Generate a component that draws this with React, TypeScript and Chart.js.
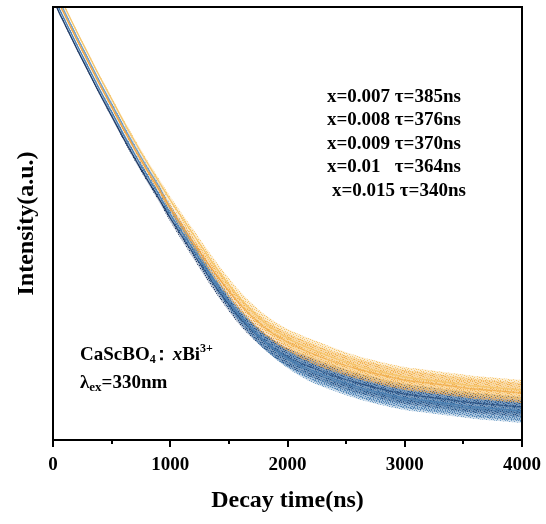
import React, { useEffect, useRef } from "react";
import { Chart, registerables } from "chart.js";

Chart.register(...registerables);

// ---- data (intensity in arbitrary units) ----
const decayTimes = [0, 50, 100, 150, 200, 300, 400, 500, 600, 700, 800, 900, 1000, 1200, 1400, 1600, 1800, 2000, 2200, 2400, 2600, 2800, 3000, 3200, 3400, 3600, 3800, 4000];
const intensity007 = [459, 445, 433, 421, 409, 386, 363, 341, 319, 298, 278, 259, 240, 205, 171, 141, 118, 102, 91, 82, 74, 68, 63, 60, 57, 54, 52, 50];
const intensity008 = [451, 437, 425, 413, 401, 378, 355, 333, 311, 290, 270, 251, 232, 197, 164, 135, 113, 98, 87, 78, 71, 65, 60, 57, 54, 51, 49, 47];
const intensity009 = [446, 432, 420, 408, 396, 373, 350, 328, 306, 285, 265, 246, 226, 190, 154, 123, 99, 82, 70, 61, 53, 47, 42, 39, 36, 33, 31, 29];
const intensity010 = [442, 428, 416, 404, 392, 369, 346, 324, 302, 281, 261, 242, 222, 186, 151, 121, 99, 83, 73, 64, 57, 51, 46, 43, 40, 37, 35, 33];
const intensity015 = [454, 440, 428, 416, 404, 381, 358, 336, 314, 293, 273, 254, 232, 194, 156, 124, 99, 81, 68, 59, 51, 45, 40, 37, 34, 31, 29, 27];
// half-width of the noisy scatter band around each decay curve
const noiseHalfWidth = [1.5, 1.5, 1.5, 1.5, 1.5, 1.5, 1.5, 2, 2, 2.5, 2.5, 3, 3.5, 5, 6, 7, 8, 9, 10, 10, 10, 10, 10, 10, 10, 10, 10, 10];

const concentrations = ["0.007", "0.008", "0.009", "0.01", "0.015"];
const lifetimes = [385, 376, 370, 364, 340];
const xTickValues = [0, 1000, 2000, 3000, 4000];
const xMinorTickValues = [500, 1500, 2500, 3500];

const seriesValues = [intensity007, intensity008, intensity009, intensity010, intensity015];
const seriesColors = ["#F6C66E", "#EFA443", "#4B80B2", "#213D69", "#6F9FC7"];

const SERIF = "'Liberation Serif', 'Times New Roman', serif";

const TILE_W = 11;
const TILE_H = 9;
const DOTS: [number, number][] = [
  [0, 0], [4, 0], [9, 0], [2, 1], [7, 1], [5, 2], [10, 2], [3, 2], [1, 3], [8, 3],
  [6, 4], [3, 4], [0, 5], [9, 5], [5, 5], [2, 6], [7, 6], [10, 7], [4, 7], [1, 8], [6, 8], [8, 8],
];

function makePattern(color: string, shift: number): CanvasPattern | string {
  const c = document.createElement("canvas");
  c.width = TILE_W;
  c.height = TILE_H;
  const g = c.getContext("2d");
  if (!g) return color;
  g.globalAlpha = 0.33;
  g.fillStyle = color;
  g.fillRect(0, 0, TILE_W, TILE_H);
  g.globalAlpha = 1;
  DOTS.forEach(([x, y]) => g.fillRect((x + shift) % TILE_W, (y + shift * 2) % TILE_H, 1, 1));
  const p = g.createPattern(c, "repeat");
  return p || color;
}

const decorPlugin = {
  id: "decor",
  afterDraw(chart: any) {
    const { ctx, chartArea } = chart;
    const xs = chart.scales.x;
    ctx.save();
    // frame
    ctx.strokeStyle = "#000";
    ctx.lineWidth = 2;
    ctx.strokeRect(chartArea.left, chartArea.top, chartArea.right - chartArea.left, chartArea.bottom - chartArea.top);
    // ticks
    xTickValues.forEach((v) => {
      const px = Math.round(xs.getPixelForValue(v));
      ctx.beginPath();
      ctx.moveTo(px, chartArea.bottom);
      ctx.lineTo(px, chartArea.bottom + 7);
      ctx.stroke();
    });
    xMinorTickValues.forEach((v) => {
      const px = Math.round(xs.getPixelForValue(v));
      ctx.beginPath();
      ctx.moveTo(px, chartArea.bottom);
      ctx.lineTo(px, chartArea.bottom + 4);
      ctx.stroke();
    });

    // lifetime annotation
    ctx.fillStyle = "#000";
    ctx.textBaseline = "middle";
    ctx.font = `bold 19px ${SERIF}`;
    const baseX = 327;
    const tauX = baseX + ctx.measureText("x=0.007 ").width;
    concentrations.forEach((c, i) => {
      const y = 97 + i * 23.5;
      const shift = i === 4 ? 5 : 0;
      ctx.fillText(`x=${c}`, baseX + shift, y);
      ctx.fillText(`τ=${lifetimes[i]}ns`, tauX + shift, y);
    });

    // sample annotation
    let x = 80;
    let y = 355;
    const draw = (t: string, font: string, dy: number) => {
      ctx.font = font;
      ctx.fillText(t, x, y + dy);
      x += ctx.measureText(t).width;
    };
    draw("CaScBO", `bold 19px ${SERIF}`, 0);
    draw("4", `bold 12px ${SERIF}`, 5);
    x -= 4;
    draw("：", `bold 19px ${SERIF}`, 0);
    x += 2;
    draw("x", `italic bold 19px ${SERIF}`, 0);
    draw("Bi", `bold 19px ${SERIF}`, 0);
    draw("3+", `bold 12px ${SERIF}`, -6);

    x = 80;
    y = 383;
    draw("λ", `bold 19px ${SERIF}`, 0);
    draw("ex", `bold 13px ${SERIF}`, 5);
    draw("=330nm", `bold 19px ${SERIF}`, 0);
    ctx.restore();
  },
};

export default function App() {
  const canvasRef = useRef<HTMLCanvasElement | null>(null);

  useEffect(() => {
    document.body.style.margin = "0";
    const canvas = canvasRef.current;
    if (!canvas) return;

    const datasets: any[] = [];
    seriesValues.forEach((vals, s) => {
      const color = seriesColors[s];
      const pattern = makePattern(color, s * 3);
      datasets.push({
        label: `x=${concentrations[s]} upper`,
        data: decayTimes.map((t, i) => ({ x: t, y: vals[i] + noiseHalfWidth[i] })),
        borderWidth: 0,
        borderColor: "transparent",
        backgroundColor: pattern,
        pointRadius: 0,
        fill: "+1",
        cubicInterpolationMode: "monotone",
      });
      datasets.push({
        label: `x=${concentrations[s]} lower`,
        data: decayTimes.map((t, i) => ({ x: t, y: vals[i] - noiseHalfWidth[i] })),
        borderWidth: 0,
        borderColor: "transparent",
        pointRadius: 0,
        fill: false,
        cubicInterpolationMode: "monotone",
      });
      datasets.push({
        label: `x=${concentrations[s]}`,
        data: decayTimes.map((t, i) => ({ x: t, y: vals[i] })),
        borderWidth: 1.3,
        borderColor: color,
        pointRadius: 0,
        fill: false,
        cubicInterpolationMode: "monotone",
      });
    });

    const chart = new Chart(canvas, {
      type: "line",
      data: { datasets },
      options: {
        animation: false,
        responsive: false,
        layout: { padding: { top: 7, right: 24, left: 0, bottom: 0 } },
        plugins: { legend: { display: false }, tooltip: { enabled: false } },
        scales: {
          x: {
            type: "linear",
            min: 0,
            max: 4000,
            afterBuildTicks: (scale: any) => {
              scale.ticks = xTickValues.map((v) => ({ value: v }));
            },
            afterFit: (scale: any) => {
              scale.height = 84;
              scale.paddingLeft = 0;
              scale.paddingRight = 0;
            },
            ticks: {
              autoSkip: false,
              maxRotation: 0,
              padding: 14,
              color: "#000",
              font: { family: SERIF, size: 19, weight: "bold" },
              callback: (v: any) => String(v),
            },
            grid: { display: false, drawTicks: false },
            border: { display: false },
            title: {
              display: true,
              text: "Decay time(ns)",
              color: "#000",
              font: { family: SERIF, size: 24, weight: "bold" },
              padding: { top: 0, bottom: 9 },
            },
          },
          y: {
            type: "linear",
            min: 0,
            max: 433,
            afterFit: (scale: any) => {
              scale.width = 53;
            },
            ticks: { display: false },
            grid: { display: false, drawTicks: false },
            border: { display: false },
            title: {
              display: true,
              text: "Intensity(a.u.)",
              color: "#000",
              font: { family: SERIF, size: 24, weight: "bold" },
              padding: { top: 12, bottom: 0 },
            },
          },
        },
      },
      plugins: [decorPlugin],
    });

    return () => chart.destroy();
  }, []);

  return (
    <div style={{ width: 546, height: 524, background: "#fff" }}>
      <canvas ref={canvasRef} width={546} height={524} style={{ display: "block" }} />
    </div>
  );
}
